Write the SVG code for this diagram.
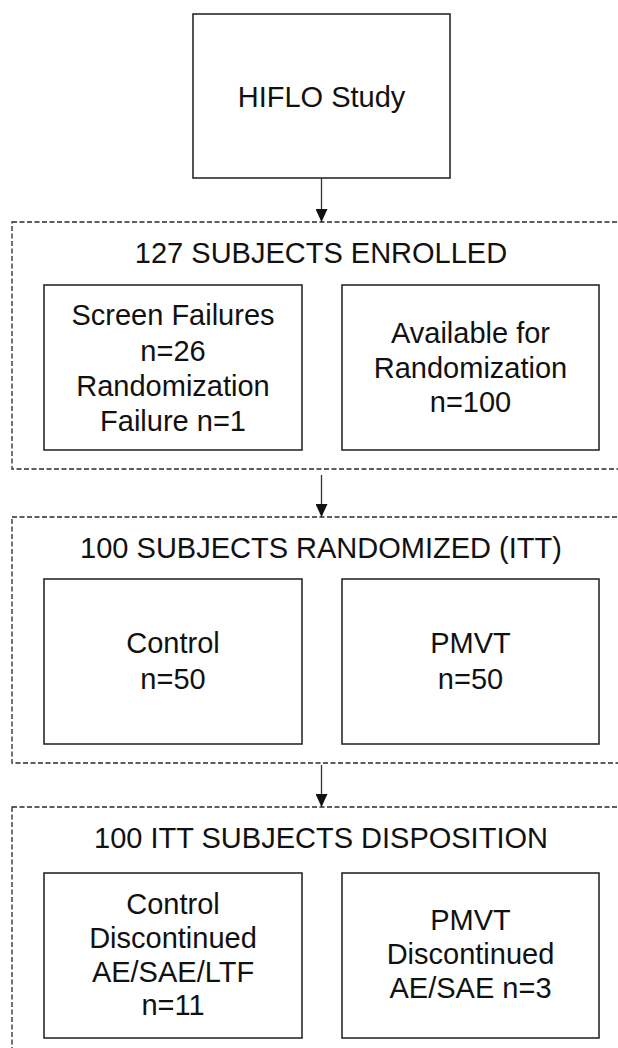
<svg xmlns="http://www.w3.org/2000/svg" width="618" height="1048" viewBox="0 0 618 1048">
<style>
.bg{fill:#ffffff}
.box{fill:#ffffff;stroke:#2a2a2a;stroke-width:1.6}
.group{fill:none;stroke:#2a2a2a;stroke-width:1.3;stroke-dasharray:5 2.5}
.t{font-family:"Liberation Sans",Arial,sans-serif;font-size:29px;fill:#111111;text-anchor:middle}
.conn{stroke:#333333;stroke-width:1.3;fill:none}
</style>
<defs>
<marker id="arr" viewBox="0 0 13 12" refX="13" refY="6" markerWidth="13" markerHeight="12" markerUnits="userSpaceOnUse" orient="auto">
<path d="M0,0 L13,6 L0,12 Z" fill="#111111"/>
</marker>
</defs>
<rect class="bg" x="0" y="0" width="618" height="1048"/>

<g id="enrolled-group">
<rect class="group" x="12" y="222" width="620" height="247"/>
<text class="t" x="321" y="263">127 SUBJECTS ENROLLED</text>
</g>
<g id="randomized-group">
<rect class="group" x="12" y="517" width="620" height="246"/>
<text class="t" x="321" y="558">100 SUBJECTS RANDOMIZED (ITT)</text>
</g>
<g id="disposition-group">
<rect class="group" x="12" y="807" width="620" height="260"/>
<text class="t" x="321" y="848">100 ITT SUBJECTS DISPOSITION</text>
</g>

<g id="hiflo">
<rect class="box" x="193" y="14" width="257" height="164"/>
<text class="t" x="321.5" y="107">HIFLO Study</text>
</g>

<g id="screen-failures">
<rect class="box" x="44" y="285" width="258" height="165"/>
<text class="t" x="173" y="325">Screen Failures</text>
<text class="t" x="173" y="360.5">n=26</text>
<text class="t" x="173" y="396">Randomization</text>
<text class="t" x="173" y="431">Failure n=1</text>
</g>
<g id="available">
<rect class="box" x="342" y="285" width="257" height="165"/>
<text class="t" x="470.5" y="343">Available for</text>
<text class="t" x="470.5" y="377.5">Randomization</text>
<text class="t" x="470.5" y="412">n=100</text>
</g>

<g id="control">
<rect class="box" x="44" y="579" width="258" height="165"/>
<text class="t" x="173" y="653">Control</text>
<text class="t" x="173" y="689">n=50</text>
</g>
<g id="pmvt">
<rect class="box" x="342" y="579" width="257" height="165"/>
<text class="t" x="470.5" y="653">PMVT</text>
<text class="t" x="470.5" y="689">n=50</text>
</g>

<g id="control-disc">
<rect class="box" x="44" y="873" width="258" height="165"/>
<text class="t" x="173" y="914">Control</text>
<text class="t" x="173" y="947.5">Discontinued</text>
<text class="t" x="173" y="982">AE/SAE/LTF</text>
<text class="t" x="173" y="1015">n=11</text>
</g>
<g id="pmvt-disc">
<rect class="box" x="342" y="873" width="257" height="165"/>
<text class="t" x="470.5" y="930">PMVT</text>
<text class="t" x="470.5" y="964">Discontinued</text>
<text class="t" x="470.5" y="998">AE/SAE n=3</text>
</g>

<g id="connectors">
<line class="conn" x1="321.5" y1="178" x2="321.5" y2="222" marker-end="url(#arr)"/>
<line class="conn" x1="321.5" y1="475" x2="321.5" y2="517" marker-end="url(#arr)"/>
<line class="conn" x1="321.5" y1="765" x2="321.5" y2="807" marker-end="url(#arr)"/>
</g>
</svg>
